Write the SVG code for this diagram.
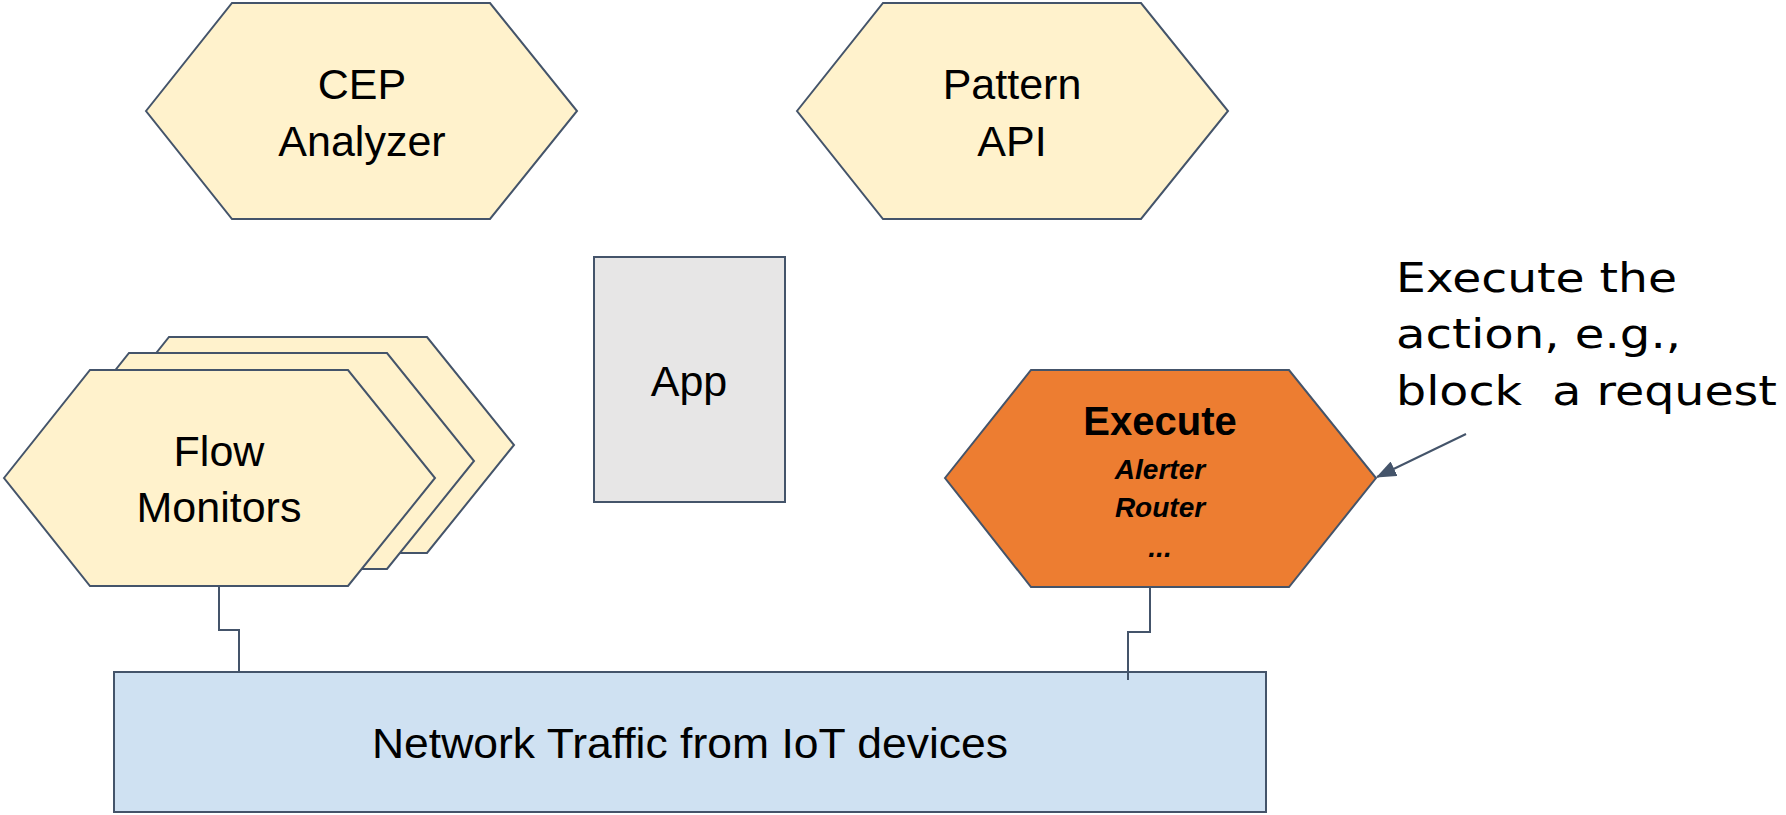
<svg xmlns="http://www.w3.org/2000/svg" width="1786" height="815" viewBox="0 0 1786 815">
  <style>
    .hex { fill: #fff2cc; stroke: #44546a; stroke-width: 2; }
    .exec { fill: #ed7d31; stroke: #44546a; stroke-width: 2; }
    .app { fill: #e7e6e6; stroke: #44546a; stroke-width: 2; }
    .net { fill: #cfe1f2; stroke: #44546a; stroke-width: 2; }
    .wire { fill: none; stroke: #44546a; stroke-width: 2; }
    .lbl { font-family: "Liberation Sans", Arial, sans-serif; font-size: 43px; fill: #000; text-anchor: middle; }
    .bold { font-family: "Liberation Sans", Arial, sans-serif; font-size: 40px; font-weight: bold; fill: #000; text-anchor: middle; }
    .sub { font-family: "Liberation Sans", Arial, sans-serif; font-size: 28px; font-weight: bold; font-style: italic; fill: #000; text-anchor: middle; }
    .note { font-family: "DejaVu Sans", Verdana, sans-serif; font-size: 40px; fill: #000; white-space: pre; }
  </style>
  <defs>
    <marker id="arrowhead" markerUnits="userSpaceOnUse" markerWidth="20" markerHeight="16" viewBox="0 0 20 16" refX="19" refY="8" orient="auto">
      <path d="M0,0 L20,8 L0,16 Z" fill="#44546a"/>
    </marker>
  </defs>
  <rect width="1786" height="815" fill="#ffffff"/>

  <g id="cep-analyzer">
    <polygon class="hex" points="146,111 232,3 490,3 577,111 490,219 232,219"/>
    <text class="lbl" x="362" y="99">CEP</text>
    <text class="lbl" x="362" y="156">Analyzer</text>
  </g>

  <g id="pattern-api">
    <polygon class="hex" points="797,111 883,3 1141,3 1228,111 1141,219 883,219"/>
    <text class="lbl" x="1012" y="99">Pattern</text>
    <text class="lbl" x="1012" y="156">API</text>
  </g>

  <g id="flow-monitors">
    <polygon class="hex" transform="translate(79,-33)" points="4,478 90,370 348,370 435,478 348,586 90,586"/>
    <polygon class="hex" transform="translate(39,-17)" points="4,478 90,370 348,370 435,478 348,586 90,586"/>
    <polygon class="hex" points="4,478 90,370 348,370 435,478 348,586 90,586"/>
    <text class="lbl" x="219" y="466">Flow</text>
    <text class="lbl" x="219" y="522">Monitors</text>
  </g>

  <g id="app">
    <rect class="app" x="594" y="257" width="191" height="245"/>
    <text class="lbl" x="689" y="396">App</text>
  </g>

  <g id="execute">
    <polygon class="exec" points="945,478 1031,370 1289,370 1376,478 1289,587 1031,587"/>
    <text class="bold" x="1160" y="435">Execute</text>
    <text class="sub" x="1160" y="479">Alerter</text>
    <text class="sub" x="1160" y="517">Router</text>
    <text class="sub" x="1160" y="557">...</text>
  </g>

  <g id="network-traffic">
    <rect class="net" x="114" y="672" width="1152" height="140"/>
    <text class="lbl" x="690" y="758" textLength="636" lengthAdjust="spacingAndGlyphs">Network Traffic from IoT devices</text>
  </g>

  <g id="note">
    <text class="note" x="1396" y="292" textLength="281" lengthAdjust="spacingAndGlyphs">Execute the</text>
    <text class="note" x="1396" y="348" textLength="285" lengthAdjust="spacingAndGlyphs">action, e.g.,</text>
    <text class="note" x="1396" y="405" textLength="381" lengthAdjust="spacingAndGlyphs">block  a request</text>
  </g>

  <g id="connectors">
    <path class="wire" d="M219,586 V630 H239 V672"/>
    <path class="wire" d="M1150,587 V632 H1128 V680"/>
    <line class="wire" x1="1466" y1="434" x2="1377" y2="477" marker-end="url(#arrowhead)"/>
  </g>
</svg>
